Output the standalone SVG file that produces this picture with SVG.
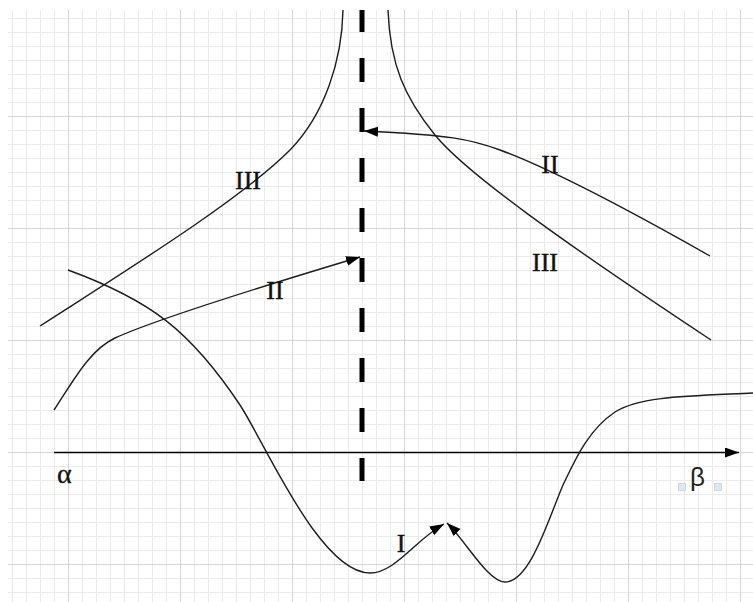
<svg xmlns="http://www.w3.org/2000/svg" width="753" height="602" viewBox="0 0 753 602">
<style>
.curve{fill:none;stroke:#1c1c1c;stroke-width:1.4}
.lbl{font-family:"Liberation Serif","Times New Roman",serif;font-size:26px;fill:#111;stroke:#111;stroke-width:0.35;text-anchor:middle}
.handle{fill:#dfe7f3;stroke:#b9c3d2;stroke-width:0.6}
</style>
<defs>
<pattern id="minor" x="12" y="4" width="14" height="14" patternUnits="userSpaceOnUse"><path d="M0.5,0 V14 M0,0.5 H14" stroke="#ebebeb" stroke-width="1" fill="none"/></pattern>
<pattern id="major" x="68" y="4" width="112" height="112" patternUnits="userSpaceOnUse"><path d="M0.5,0 V112 M0,0.5 H112" stroke="#d5d5d5" stroke-width="1" fill="none"/></pattern>
<marker id="arr" markerUnits="userSpaceOnUse" markerWidth="15" markerHeight="11" refX="14" refY="5" orient="auto" viewBox="0 0 15 11"><path d="M0,0 L14,5 L0,10 z" fill="#000"/></marker>
</defs>
<rect width="753" height="602" fill="#fff"/>
<g id="grid">
<rect x="8" y="10" width="745" height="592" fill="url(#minor)"/>
<rect x="8" y="10" width="745" height="592" fill="url(#major)"/>
</g>
<g id="connectors">
<line id="axis" x1="54" y1="452.5" x2="739" y2="452.5" stroke="#000" stroke-width="1.5" marker-end="url(#arr)"/>
<line id="asymptote" x1="362" y1="10" x2="362" y2="481" stroke="#000" stroke-width="5" stroke-dasharray="24 26" stroke-dashoffset="2"/>
<path id="III-left" class="curve" d="M40,326 C130,268 240,200 290,150 C325,114 342,60 343,10"/>
<path id="III-right" class="curve" d="M388,10 C390,65 405,98 435,135 C465,172 560,240 711,340"/>
<path id="II-right" class="curve" d="M710,256 C650,222 560,172 500,150 C470,139 450,135 364,131" marker-end="url(#arr)"/>
<path id="II-left" class="curve" d="M54,410 C75,378 90,350 115,338 C150,322 250,290 360,257" marker-end="url(#arr)"/>
<path id="I-left" class="curve" d="M68,270 C150,300 190,330 240,405 C265,443 320,573 370,573 C395,573 415,540 444,524" marker-end="url(#arr)"/>
<path id="I-right" class="curve" d="M753,393 C690,396 640,396 615,412 C588,430 575,460 563,485 C548,520 530,582 505,582 C488,582 465,540 447,523" marker-end="url(#arr)"/>
</g>
<g id="labels">
<text class="lbl" x="248" y="189">III</text>
<text class="lbl" x="550" y="173">II</text>
<text class="lbl" x="545" y="271">III</text>
<text class="lbl" x="275" y="299">II</text>
<text class="lbl" x="401" y="552">I</text>
<text x="57" y="483" style="font-family:'Liberation Serif','Times New Roman',serif;font-size:28px;fill:#111;stroke:#111;stroke-width:0.3">α</text>
<g id="beta">
<rect class="handle" x="678.5" y="483.5" width="7" height="7"/>
<text x="690" y="486" style="font-family:'Liberation Sans',Arial,sans-serif;font-size:26px;fill:#222">β</text>
<rect class="handle" x="714.5" y="483.5" width="7" height="7"/>
</g>
</g>
</svg>
